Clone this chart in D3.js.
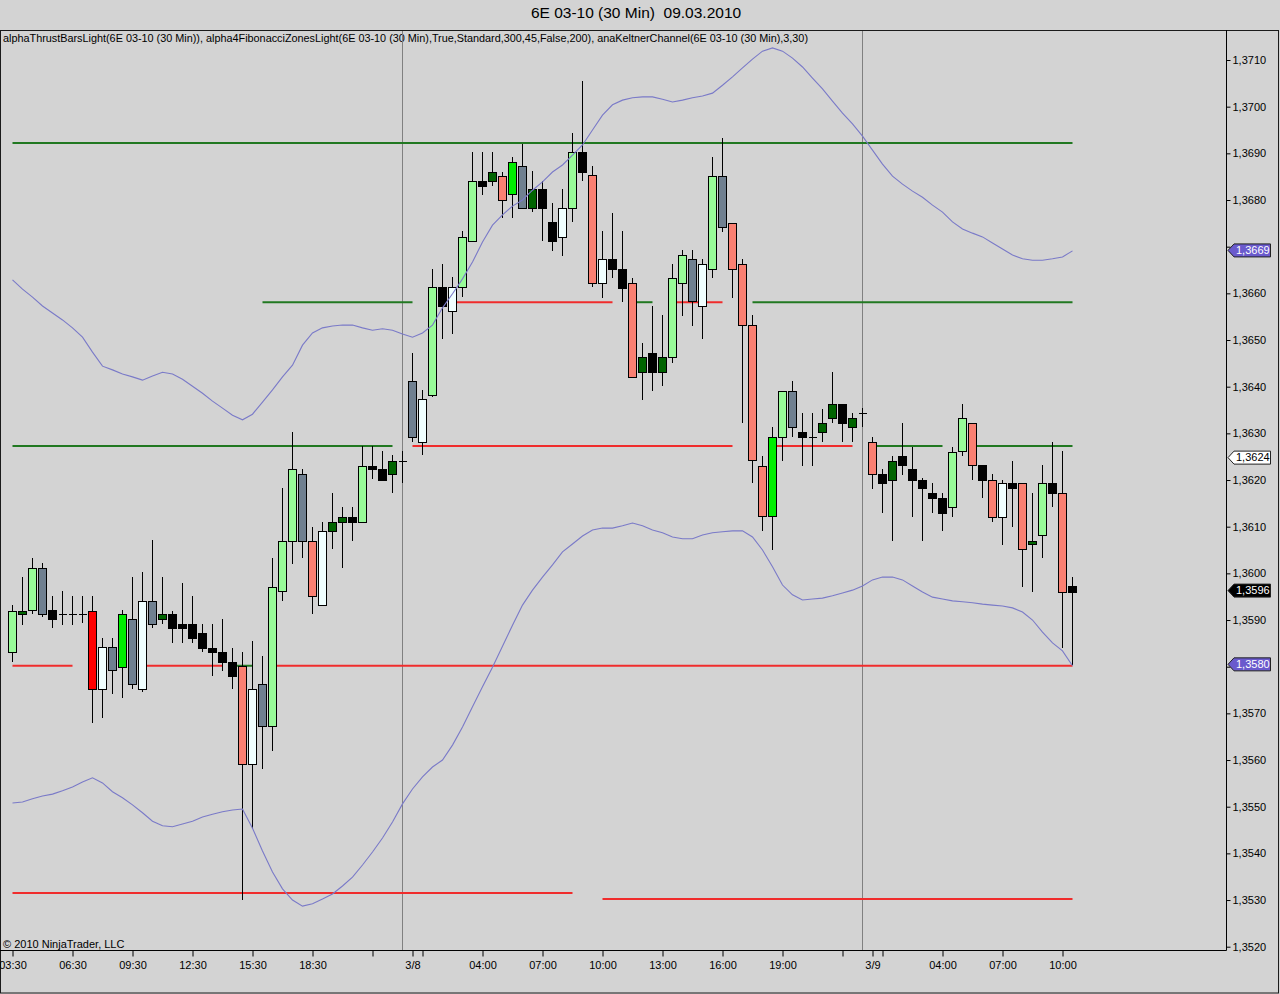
<!DOCTYPE html>
<html><head><meta charset="utf-8">
<script src="https://cdn.jsdelivr.net/npm/d3@7/dist/d3.min.js"></script>
<style>
html,body{margin:0;padding:0;background:#d3d3d3;}
svg{display:block;font-family:"Liberation Sans",Arial,sans-serif;}
</style>
</head><body>
<svg id="chart" width="1280" height="994"></svg>
<script>
// ---------- DATA ----------
const chartTitle = "6E 03-10 (30 Min)  09.03.2010";
const legendText = "alphaThrustBarsLight(6E 03-10 (30 Min)), alpha4FibonacciZonesLight(6E 03-10 (30 Min),True,Standard,300,45,False,200), anaKeltnerChannel(6E 03-10 (30 Min),3,30)";
const copyrightText = "\u00A9 2010 NinjaTrader, LLC";

const opens = [1.35831,1.35913,1.35922,1.36012,1.35922,1.35913,1.35913,1.35913,1.35920,1.35752,
1.35842,1.35799,1.35902,1.35752,1.35941,1.35902,1.35913,1.35892,1.35892,1.35872,
1.35841,1.35832,1.35810,1.35801,1.35592,1.35763,1.35673,1.35962,1.36070,1.36213,
1.36070,1.35932,1.36091,1.36111,1.36121,1.36111,1.36231,1.36224,1.36213,1.36241,
1.36412,1.36282,1.36382,1.36614,1.36562,1.36614,1.36712,1.36841,1.36841,1.36852,
1.36812,1.36873,1.36782,1.36823,1.36753,1.36721,1.36782,1.36902,1.36854,1.36622,
1.36673,1.36652,1.36622,1.36432,1.36472,1.36432,1.36463,1.36622,1.36673,1.36573,
1.36652,1.36852,1.36751,1.36662,1.36532,1.36231,1.36123,1.36292,1.36391,1.36302,
1.36292,1.36302,1.36332,1.36362,1.36313,1.36344,1.36282,1.36212,1.36201,1.36252,
1.36223,1.36201,1.36172,1.36161,1.36142,1.36262,1.36322,1.36232,1.36201,1.36121,
1.36193,1.36193,1.36062,1.36082,1.36193,1.36172,1.35973];
const highs = [1.35932,1.35992,1.36033,1.36022,1.35952,1.35962,1.35952,1.35952,1.35952,1.35862,
1.35862,1.35922,1.35992,1.36003,1.36071,1.35992,1.35920,1.35979,1.35952,1.35892,
1.35892,1.35902,1.35841,1.35832,1.35854,1.35823,1.36033,1.36183,1.36303,1.36224,
1.36100,1.36111,1.36173,1.36142,1.36142,1.36273,1.36273,1.36262,1.36254,1.36262,
1.36472,1.36393,1.36652,1.36663,1.36634,1.36734,1.36903,1.36903,1.36903,1.36861,
1.36893,1.36920,1.36862,1.36841,1.36794,1.36823,1.36943,1.37054,1.36873,1.36734,
1.36772,1.36734,1.36632,1.36493,1.36573,1.36554,1.36662,1.36693,1.36693,1.36673,
1.36892,1.36932,1.36751,1.36673,1.36554,1.36252,1.36314,1.36391,1.36412,1.36344,
1.36344,1.36352,1.36432,1.36362,1.36343,1.36354,1.36292,1.36224,1.36252,1.36322,
1.36271,1.36205,1.36193,1.36172,1.36271,1.36362,1.36322,1.36232,1.36212,1.36201,
1.36241,1.36193,1.36172,1.36232,1.36282,1.36262,1.35992];
const lows = [1.35811,1.35889,1.35913,1.35907,1.35883,1.35889,1.35889,1.35894,1.35680,1.35690,
1.35742,1.35733,1.35752,1.35746,1.35883,1.35892,1.35851,1.35851,1.35851,1.35832,
1.35781,1.35791,1.35752,1.35300,1.35452,1.35581,1.35620,1.35941,1.36020,1.36033,
1.35913,1.35932,1.36052,1.36012,1.36070,1.36111,1.36202,1.36201,1.36172,1.36194,
1.36282,1.36254,1.36378,1.36502,1.36513,1.36593,1.36712,1.36811,1.36831,1.36762,
1.36762,1.36782,1.36774,1.36712,1.36691,1.36681,1.36753,1.36841,1.36613,1.36591,
1.36632,1.36582,1.36421,1.36371,1.36391,1.36402,1.36451,1.36552,1.36530,1.36502,
1.36632,1.36732,1.36591,1.36322,1.36193,1.36091,1.36050,1.36241,1.36292,1.36231,
1.36231,1.36282,1.36322,1.36282,1.36282,1.36313,1.36181,1.36130,1.36070,1.36211,
1.36121,1.36070,1.36130,1.36091,1.36121,1.36252,1.36201,1.36161,1.36111,1.36061,
1.36100,1.35971,1.35961,1.36032,1.36142,1.35839,1.35804];
const closes = [1.35920,1.35920,1.36012,1.35913,1.35902,1.35913,1.35913,1.35913,1.35752,1.35842,
1.35793,1.35913,1.35763,1.35941,1.35892,1.35913,1.35883,1.35883,1.35862,1.35840,
1.35831,1.35810,1.35781,1.35592,1.35752,1.35673,1.35971,1.36070,1.36224,1.36070,
1.35952,1.36091,1.36111,1.36121,1.36111,1.36231,1.36223,1.36201,1.36241,1.36241,
1.36292,1.36374,1.36614,1.36573,1.36614,1.36721,1.36841,1.36831,1.36861,1.36801,
1.36882,1.36782,1.36823,1.36782,1.36712,1.36782,1.36902,1.36861,1.36622,1.36674,
1.36652,1.36612,1.36421,1.36463,1.36432,1.36463,1.36632,1.36682,1.36584,1.36662,
1.36852,1.36742,1.36652,1.36532,1.36243,1.36123,1.36292,1.36391,1.36313,1.36292,
1.36292,1.36322,1.36362,1.36322,1.36332,1.36344,1.36212,1.36193,1.36241,1.36232,
1.36201,1.36182,1.36161,1.36130,1.36261,1.36332,1.36232,1.36201,1.36121,1.36193,
1.36182,1.36052,1.36070,1.36193,1.36172,1.35961,1.35961];
// thrust-bar state per bar: L=light up, G=strong up, D=dark up, W=white, K=black, S=salmon, R=red, T=slate
const barStates = ("L D L T K K K K R W T G T W T D K K K K K K K S W T L L L T " +
 "S W D D K L K K D K T W L K W L L K D S G T D K K W L K S W " +
 "K K S D K D L L T W L T S S S S G L T K K D D K D K S K D K " +
 "K K K K L L S K S W K S D L K S K").split(" ");

const upperBand = [1.36629,1.36609,1.36592,1.36573,1.36558,1.36543,1.36526,1.36506,1.36474,1.36444,
1.36436,1.36427,1.36421,1.36414,1.36423,1.36431,1.36427,1.36416,1.36401,1.36386,
1.36369,1.36354,1.36339,1.36329,1.36341,1.36367,1.36393,1.36421,1.36446,1.36489,
1.36515,1.36526,1.36530,1.36532,1.36532,1.36526,1.36521,1.36524,1.36521,1.36513,
1.36506,1.36515,1.36532,1.36569,1.36599,1.36631,1.36667,1.36710,1.36746,1.36768,
1.36787,1.36800,1.36821,1.36839,1.36860,1.36875,1.36896,1.36918,1.36950,1.36982,
1.37004,1.37014,1.37019,1.37021,1.37021,1.37016,1.37010,1.37014,1.37019,1.37023,
1.37029,1.37046,1.37064,1.37083,1.37102,1.37119,1.37126,1.37119,1.37104,1.37085,
1.37061,1.37038,1.37012,1.36986,1.36963,1.36937,1.36907,1.36877,1.36851,1.36834,
1.36819,1.36806,1.36789,1.36774,1.36753,1.36738,1.36729,1.36721,1.36708,1.36695,
1.36682,1.36674,1.36671,1.36671,1.36674,1.36678,1.36691];
const lowerBand = [1.35508,1.35510,1.35517,1.35523,1.35527,1.35534,1.35542,1.35553,1.35562,1.35551,
1.35532,1.35519,1.35504,1.35487,1.35469,1.35459,1.35457,1.35463,1.35469,1.35478,
1.35484,1.35489,1.35493,1.35495,1.35454,1.35405,1.35360,1.35324,1.35300,1.35287,
1.35292,1.35302,1.35313,1.35330,1.35349,1.35375,1.35403,1.35433,1.35467,1.35506,
1.35538,1.35564,1.35585,1.35600,1.35632,1.35671,1.35714,1.35757,1.35799,1.35844,
1.35889,1.35932,1.35964,1.35992,1.36018,1.36046,1.36063,1.36080,1.36093,1.36097,
1.36097,1.36102,1.36108,1.36102,1.36093,1.36087,1.36078,1.36074,1.36074,1.36082,
1.36087,1.36089,1.36091,1.36091,1.36078,1.36050,1.36014,1.35975,1.35954,1.35943,
1.35945,1.35947,1.35952,1.35958,1.35964,1.35973,1.35986,1.35992,1.35992,1.35986,
1.35973,1.35960,1.35949,1.35945,1.35941,1.35939,1.35937,1.35934,1.35932,1.35930,
1.35926,1.35917,1.35900,1.35874,1.35851,1.35834,1.35802];

// Fibonacci zone segments: [levelIndex, firstBar, lastBar, kind]
const fibLevels = [1.36922,1.36581,1.36273,1.35802,1.35315,1.35302];
const fibSegments = [
 [0,0,106,"g"],
 [1,25,40,"g"],[1,44,60,"r"],[1,62,64,"g"],[1,66,71,"r"],[1,74,106,"g"],
 [2,0,38,"g"],[2,40,72,"r"],[2,76,84,"r"],[2,86,93,"g"],[2,96,106,"g"],
 [3,0,6,"r"],[3,13,21,"r"],[3,22,24,"g"],[3,26,106,"r"],
 [4,0,56,"r"],[5,59,106,"r"]
];

const sessionBreaks = [39, 85];
const xTickBars = [0,6,12,18,24,30,36,40,41,47,53,59,65,71,77,83,86,87,93,99,105];
const xTickLabels = {0:"03:30",6:"06:30",12:"09:30",18:"12:30",24:"15:30",30:"18:30",40:"3/8",
 47:"04:00",53:"07:00",59:"10:00",65:"13:00",71:"16:00",77:"19:00",86:"3/9",93:"04:00",99:"07:00",105:"10:00"};
const priceTicks = d3.range(0,20).map(i => +(1.3520 + i*0.0010).toFixed(4));
// right-axis markers: [value, kind]
const markers = [[1.36692,"band"],[1.36248,"plain"],[1.35963,"last"],[1.35805,"band"]];

// ---------- STYLES ----------
const stateColor = {L:"#98fb98",G:"#00ee00",D:"#006400",W:"#f0ffff",K:"#000000",S:"#fa8072",R:"#ff0000",T:"#708090"};
const fibColor = {g:"#217821", r:"#f02c2c"};
const markerStyle = {band:{fill:"#6a5acd",text:"#ffffff"}, plain:{fill:"#ffffff",text:"#000000"}, last:{fill:"#000000",text:"#ffffff"}};

// ---------- DRAW ----------
const svg = d3.select("#chart");
const W = 1280, H = 994;
const plotTop = 30, plotBottom = 950.5, axisX = 1226.5;

const x = d3.scaleLinear().domain([0,106]).range([12.5,1072.5]);
const y = d3.scaleLinear().domain([1.3520,1.3710]).range([946.7,60]);
const fmt = v => (Math.floor(v*10000+1e-6)/10000).toFixed(4).replace(".",",");

svg.append("rect").attr("width",W).attr("height",H).attr("fill","#d3d3d3");

// title
svg.append("text").attr("x",636).attr("y",18).attr("text-anchor","middle")
 .attr("font-size","15.5px").attr("fill","#000").style("white-space","pre").text(chartTitle);

// frame
svg.append("rect").attr("x",0.5).attr("y",plotTop+0.5).attr("width",W-2).attr("height",H-plotTop-1.5)
 .attr("fill","none").attr("stroke","#1a1a1a").attr("stroke-width",1);

const plot = svg.append("g");
plot.append("clipPath").attr("id","pc").append("rect").attr("x",1).attr("y",plotTop+1).attr("width",axisX-1).attr("height",plotBottom-plotTop-1);
const pg = plot.append("g").attr("clip-path","url(#pc)");

// legend
pg.append("text").attr("x",3).attr("y",42).attr("font-size","11px").attr("fill","#000")
 .attr("textLength",805).attr("lengthAdjust","spacingAndGlyphs").text(legendText);

// session break lines
pg.selectAll("line.sess").data(sessionBreaks).join("line").attr("class","sess")
 .attr("x1",d=>x(d)).attr("x2",d=>x(d)).attr("y1",plotTop).attr("y2",plotBottom)
 .attr("stroke","#808080").attr("stroke-width",1);

// fib zones
pg.selectAll("line.fib").data(fibSegments).join("line").attr("class","fib")
 .attr("x1",d=>x(d[1])).attr("x2",d=>x(d[2]))
 .attr("y1",d=>y(fibLevels[d[0]])).attr("y2",d=>y(fibLevels[d[0]]))
 .attr("stroke",d=>fibColor[d[3]]).attr("stroke-width",2);

// candles
const bars = d3.range(opens.length).map(i=>({i,o:opens[i],h:highs[i],l:lows[i],c:closes[i],s:barStates[i]}));
const cg = pg.append("g").attr("shape-rendering","crispEdges");
cg.selectAll("line.wick").data(bars).join("line").attr("class","wick")
 .attr("x1",d=>Math.floor(x(d.i))+0.5).attr("x2",d=>Math.floor(x(d.i))+0.5)
 .attr("y1",d=>y(d.h)).attr("y2",d=>y(d.l)).attr("stroke","#000").attr("stroke-width",1);
const bodies = bars.filter(d=>Math.abs(d.o-d.c)>0.00002);
const dojis = bars.filter(d=>Math.abs(d.o-d.c)<=0.00002);
cg.selectAll("rect.body").data(bodies).join("rect").attr("class","body")
 .attr("x",d=>Math.floor(x(d.i))-3.5).attr("width",8)
 .attr("y",d=>Math.round(y(Math.max(d.o,d.c)))+0.5)
 .attr("height",d=>Math.max(1,Math.round(y(Math.min(d.o,d.c)))-Math.round(y(Math.max(d.o,d.c)))))
 .attr("fill",d=>stateColor[d.s]).attr("stroke","#000").attr("stroke-width",1);
cg.selectAll("line.doji").data(dojis).join("line").attr("class","doji")
 .attr("x1",d=>Math.floor(x(d.i))-3.5).attr("x2",d=>Math.floor(x(d.i))+4.5)
 .attr("y1",d=>Math.round(y(d.o))+0.5).attr("y2",d=>Math.round(y(d.o))+0.5)
 .attr("stroke","#000").attr("stroke-width",1);

// keltner bands
const lineGen = d3.line().x((d,i)=>x(i)).y(d=>y(d));
[upperBand, lowerBand].forEach(b=>{
  pg.append("path").attr("d",lineGen(b)).attr("fill","none")
   .attr("stroke","#7a7ac8").attr("stroke-width",1.1);
});

// copyright
pg.append("text").attr("x",3).attr("y",948).attr("font-size","11px").attr("fill","#000").text(copyrightText);

// axis lines
svg.append("line").attr("x1",axisX).attr("x2",axisX).attr("y1",plotTop).attr("y2",plotBottom).attr("stroke","#000");
svg.append("line").attr("x1",0).attr("x2",axisX).attr("y1",plotBottom).attr("y2",plotBottom).attr("stroke","#000");

// right price axis
const ya = svg.append("g").attr("transform",`translate(${axisX},0)`)
 .call(d3.axisRight(y).tickValues(priceTicks).tickSize(4).tickPadding(2).tickFormat(fmt));
ya.select(".domain").remove();
ya.selectAll("text").attr("font-size","11px").attr("font-family","'Liberation Sans',Arial,sans-serif").attr("fill","#000");
ya.selectAll("line").attr("stroke","#000");
// tick labels hidden underneath a price marker (as in the platform) are not drawn
ya.selectAll(".tick").filter(t => markers.some(([v]) => Math.abs(y(v)-y(t)) < 10)).select("text").remove();

// bottom time axis
const xa = svg.append("g").attr("transform",`translate(0,${plotBottom})`)
 .call(d3.axisBottom(x).tickValues(xTickBars).tickSize(6).tickPadding(5).tickFormat(i=>xTickLabels[i]||""));
xa.select(".domain").remove();
xa.selectAll("text").attr("font-size","11px").attr("font-family","'Liberation Sans',Arial,sans-serif").attr("fill","#000");
xa.selectAll("line").attr("stroke","#000");

// price markers
const mg = svg.append("g");
markers.forEach(([v,k])=>{
  const yy = y(v), st = markerStyle[k];
  const g = mg.append("g").attr("transform",`translate(0,${yy})`);
  g.append("path").attr("d","M1228,0 L1234,-6.5 L1270.5,-6.5 L1270.5,6.5 L1234,6.5 Z")
   .attr("fill",st.fill).attr("stroke","#222").attr("stroke-width",1);
  g.append("text").attr("x",1236).attr("y",0).attr("dy","0.35em").attr("font-size","11px")
   .attr("fill",st.text).text(fmt(v));
});
</script>
</body></html>
